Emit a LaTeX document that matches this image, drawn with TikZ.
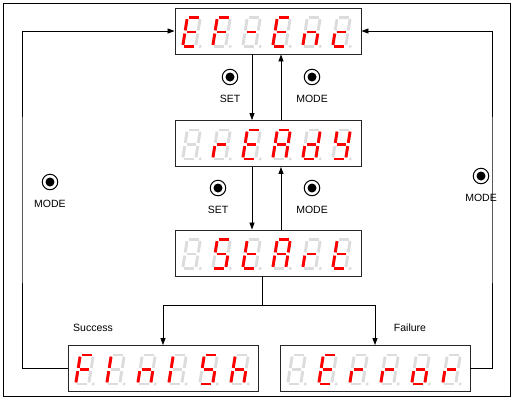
\documentclass[tikz,border=0pt]{standalone}
\usepackage{fontspec}
\newfontfamily\labfont{Liberation Sans}
\usetikzlibrary{arrows.meta}
\definecolor{segred}{HTML}{FF0000}
\definecolor{seggray}{HTML}{DCDCDC}
\tikzset{
  segoff/.style={draw=seggray,line width=2.9pt,line cap=butt},
  segon/.style={draw=segred,line width=2.9pt,line cap=butt},
  dispbox/.style={draw=black!85,line width=0.9pt,fill=white,inner sep=0pt},
  arr/.style={line width=0.8pt,-{Triangle[length=7pt,width=5pt]}},
  conn/.style={line width=0.8pt},
  btn/.style={circle,draw,line width=1pt,minimum size=15.5pt,inner sep=0pt,
    path picture={\fill (path picture bounding box.center) circle[radius=4.5pt];}},
  lab/.style={font=\labfont\fontsize{10.5}{12}\selectfont,inner sep=0pt}
}
\newcommand\ssd[3]{%
\begin{scope}[shift={(#1,#2)},xslant=0.16]
 \coordinate (a1) at (1.6,-14.5); \coordinate (a2) at (11.4,-14.5);
 \coordinate (b1) at (13,-12.9); \coordinate (b2) at (13,-1.6);
 \coordinate (c1) at (13,1.6); \coordinate (c2) at (13,12.9);
 \coordinate (d1) at (1.6,14.5); \coordinate (d2) at (11.4,14.5);
 \coordinate (e1) at (0,1.6); \coordinate (e2) at (0,12.9);
 \coordinate (f1) at (0,-12.9); \coordinate (f2) at (0,-1.6);
 \coordinate (g1) at (1.6,0); \coordinate (g2) at (11.4,0);
 \foreach \s in {a,b,c,d,e,f,g} \draw[segoff] (\s1) -- (\s2);
 \fill[seggray] (17.5,14.5) circle[radius=1.7pt];
 \if\relax\detokenize{#3}\relax\else
   \foreach \s in {#3} \draw[segon] (\s1) -- (\s2);
 \fi
\end{scope}}
% x0, y, pitch, six digits
\newcommand\disp[9]{%
 \ssd{#1}{#2}{#4}%
 \ssd{#1+#3}{#2}{#5}%
 \ssd{#1+2*#3}{#2}{#6}%
 \ssd{#1+3*#3}{#2}{#7}%
 \ssd{#1+4*#3}{#2}{#8}%
 \ssd{#1+5*#3}{#2}{#9}}
\begin{document}
\begin{tikzpicture}[x=1pt,y=-1pt]
\useasboundingbox (0,0) rectangle (514,400);
\draw[line width=0.6pt] (3,3) rectangle (510,396);
% boxes
\node[dispbox,minimum width=186pt,minimum height=46pt] (box1) at (268,31) {};
\node[dispbox,minimum width=186pt,minimum height=46pt] (box2) at (268,143.5) {};
\node[dispbox,minimum width=186pt,minimum height=46pt] (box3) at (268,253) {};
\node[dispbox,minimum width=190pt,minimum height=46pt] (box4) at (163,368.5) {};
\node[dispbox,minimum width=190pt,minimum height=46pt] (box5) at (375,368.5) {};
% digits
\disp{185}{32}{30}{a,d,e,f,g}{a,e,f,g}{g}{a,d,e,f,g}{c,e,g}{d,e,g}
\disp{185}{144.5}{30}{}{e,g}{a,d,e,f,g}{a,b,c,e,f,g}{b,c,d,e,g}{b,c,d,f,g}
\disp{185}{254}{30}{}{a,c,d,f,g}{d,e,f,g}{a,b,c,e,f,g}{e,g}{d,e,f,g}
\disp{78}{369.5}{31}{a,e,f,g}{e,f}{c,e,g}{e,f}{a,c,d,f,g}{c,e,f,g}
\disp{290}{369.5}{31}{}{a,d,e,f,g}{e,g}{e,g}{c,d,e,g}{e,g}
% vertical arrows
\coordinate (xd) at (252,0);
\coordinate (xu) at (281,0);
\draw[arr] (box1.south -| xd) -- (box2.north -| xd);
\draw[arr] (box2.north -| xu) -- (box1.south -| xu);
\draw[arr] (box2.south -| xd) -- (box3.north -| xd);
\draw[arr] (box3.north -| xu) -- (box2.south -| xu);
% buttons
\node[btn] (s1) at (230,77) {};
\node[lab] (s1l) at (230,99) {SET};
\node[btn] (m1) at (312,77) {};
\node[lab] (m1l) at (312,99) {MODE};
\node[btn] (s2) at (218,188) {};
\node[lab] (s2l) at (218,210) {SET};
\node[btn] (m2) at (312,188) {};
\node[lab] (m2l) at (312,210) {MODE};
\node[btn] (m3) at (50,182) {};
\node[lab] (m3l) at (50,204) {MODE};
\node[btn] (m4) at (481,176) {};
\node[lab] (m4l) at (481,198) {MODE};
% branch
\coordinate (br) at (262,305);
\draw[conn] (box3.south -| br) -- (br);
\draw[arr] (br) -| (box4.north);
\draw[arr] (br) -| (box5.north);
\node[lab] (succ) at (93,328) {Success};
\node[lab] (fail) at (410,328) {Failure};
% loops
\coordinate (lc) at (22,200);
\coordinate (rc) at (492,200);
\draw[arr] (box4.west) -| (lc) |- (box1.west);
\draw[arr] (box5.east) -| (rc) |- (box1.east);
\end{tikzpicture}
\end{document}
